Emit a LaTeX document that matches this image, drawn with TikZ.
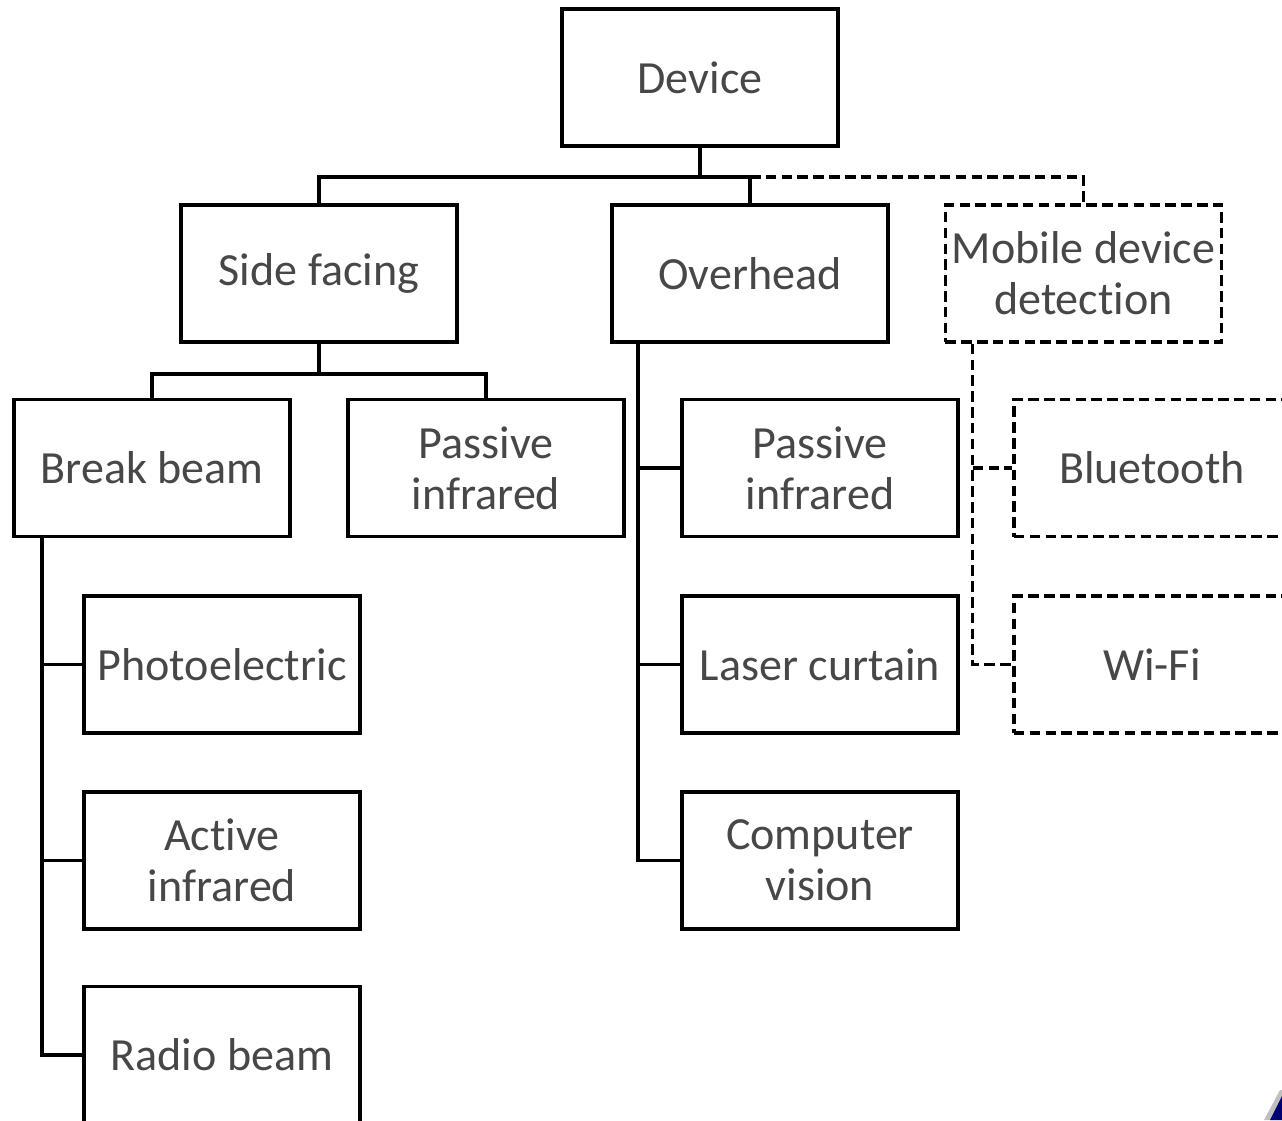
\documentclass[tikz,border=0pt]{standalone}
\usepackage{fontspec}
\setmainfont{Carlito}[Ligatures=NoCommon]
\usetikzlibrary{calc}

\begin{document}
\begin{tikzpicture}[
x=.01cm, y=-.01cm,
box/.style={draw, line width=1pt, minimum width=2.76cm, minimum height=1.37cm, inner sep=0pt, align=center, text=black!72, font=\fontsize{13.1}{14.5}\selectfont},
dashbox/.style={box, dash pattern=on 3pt off 1.5pt},
link/.style={line width=1pt},
dashlink/.style={link, dash pattern=on 3pt off 1.5pt}
]

\useasboundingbox (0,0) rectangle (1282,1120);

%%%% LEVEL 0 AND 1

\node[box] (dev) at (700,77.5) {Device};
\node[box] (side) at (319,273.5) {Side facing};
\node[box] (over) at (750,273.5) {Overhead};
\node[dashbox] (mob) at (1083.5,273.5) {Mobile device\\detection};

\draw[link] (dev.south)--++(0,29)coordinate(b1)-|(side.north);
\draw[link] (b1)-|(over.north);
\draw[dashlink] (over.north |- b1)-|(mob.north);

%%%% SIDE FACING

\node[box] (brk) at (152,468) {Break beam};
\node[box] (pirl) at (486,468) {Passive\\infrared};

\draw[link] (side.south)--++(0,30)coordinate(b2)-|(brk.north);
\draw[link] (b2)-|(pirl.north);

%% break beam
\node[box] (pho) at (222,664.5) {Photoelectric};
\node[box] (act) at (222,860.5) {Active\\infrared};
\node[box] (rad) at (222,1055) {Radio beam};

\coordinate (t1) at ($(brk.south west)+(30,0)$);
\draw[link] (t1)|-(pho.west);
\draw[link] (t1)|-(act.west);
\draw[link] (t1)|-(rad.west);

%%%% OVERHEAD

\node[box] (pirr) at (820,468) {Passive\\infrared};
\node[box] (las) at (820,664.5) {Laser curtain};
\node[box] (cv) at (820,860.5) {Computer\\vision};

\coordinate (t2) at ($(over.south west)+(28,0)$);
\draw[link] (t2)|-(pirr.west);
\draw[link] (t2)|-(las.west);
\draw[link] (t2)|-(cv.west);

%%%% MOBILE

\node[dashbox] (blu) at (1152,468) {Bluetooth};
\node[dashbox] (wifi) at (1152,664.5) {Wi-Fi};

\coordinate (t3) at ($(mob.south west)+(29,0)$);
\draw[dashlink] (t3)|-(wifi.west);
\draw[dashlink] (t3 |- blu.west)--(blu.west);

%% corner
\fill[black!25] (1264,1120)--(1280,1090)--(1282,1090)--(1282,1120)--cycle;
\fill[blue!45!black] (1270,1120)--(1282,1096)--(1282,1120)--cycle;

\end{tikzpicture}
\end{document}
